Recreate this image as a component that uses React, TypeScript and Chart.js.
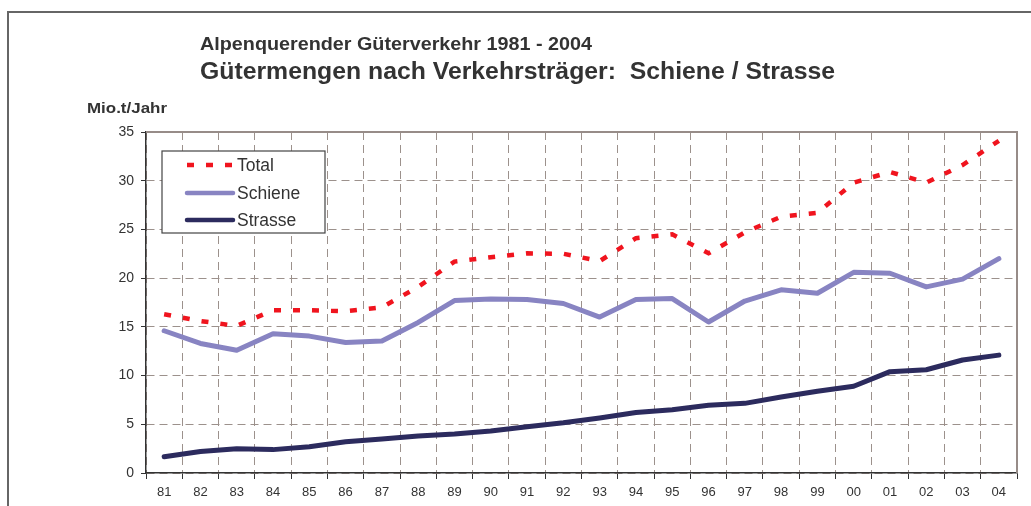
import React, { useEffect, useRef } from "react";
import { Chart, registerables } from "chart.js";

Chart.register(...registerables);

const years = ["81","82","83","84","85","86","87","88","89","90","91","92","93","94","95","96","97","98","99","00","01","02","03","04"];
const total = [16.3, 15.6, 15.1, 16.7, 16.7, 16.6, 17.0, 19.1, 21.7, 22.15, 22.55, 22.5, 21.75, 24.1, 24.5, 22.55, 24.7, 26.3, 26.7, 29.8, 30.9, 29.8, 31.6, 34.1];
const schiene = [14.6, 13.3, 12.6, 14.3, 14.05, 13.4, 13.55, 15.45, 17.7, 17.85, 17.8, 17.4, 16.0, 17.8, 17.9, 15.5, 17.65, 18.8, 18.45, 20.6, 20.5, 19.1, 19.9, 22.0];
const strasse = [1.67, 2.2, 2.5, 2.4, 2.7, 3.2, 3.5, 3.8, 4.0, 4.3, 4.75, 5.15, 5.65, 6.2, 6.5, 6.95, 7.15, 7.8, 8.4, 8.9, 10.4, 10.6, 11.6, 12.1];

const title1 = "Alpenquerender Güterverkehr 1981 - 2004";
const title2 = "Gütermengen nach Verkehrsträger:  Schiene / Strasse";
const unitLabel = "Mio.t/Jahr";
const seriesNames = ["Total", "Schiene", "Strasse"];

const RED = "#f0141e";
const LIGHT = "#8884c2";
const DARK = "#2c2b5e";
const TEXT = "#333333";
const GRID = "#9c918c";
const FONT = "'Liberation Sans', Arial, sans-serif";

function fitText(ctx: any, text: string, x: number, y: number, font: string, width: number) {
  ctx.save();
  ctx.font = font;
  const w = ctx.measureText(text).width;
  const sx = width / w;
  ctx.translate(x, y);
  ctx.scale(sx, 1);
  ctx.fillText(text, 0, 0);
  ctx.restore();
}

const decorPlugin = {
  id: "decor",
  beforeDraw(chart: any) {
    const ctx = chart.ctx;
    ctx.save();
    ctx.fillStyle = "#ffffff";
    ctx.fillRect(0, 0, chart.width, chart.height);
    ctx.restore();
  },
  afterDraw(chart: any) {
    const ctx = chart.ctx;
    const a = chart.chartArea;
    ctx.save();
    // outer frame
    ctx.strokeStyle = "#666666";
    ctx.lineWidth = 2;
    ctx.beginPath();
    ctx.moveTo(8, chart.height);
    ctx.lineTo(8, 12);
    ctx.lineTo(chart.width, 12);
    ctx.stroke();
    // top and right plot border
    ctx.strokeStyle = "#978c88";
    ctx.lineWidth = 2;
    ctx.beginPath();
    ctx.moveTo(a.left, a.top);
    ctx.lineTo(a.right, a.top);
    ctx.lineTo(a.right, a.bottom);
    ctx.stroke();
    // titles
    ctx.fillStyle = TEXT;
    ctx.textBaseline = "alphabetic";
    ctx.textAlign = "left";
    fitText(ctx, title1, 200, 50, `bold 18.5px ${FONT}`, 392);
    fitText(ctx, title2, 200, 78.5, `bold 23.5px ${FONT}`, 635);
    fitText(ctx, unitLabel, 87, 113, `bold 15px ${FONT}`, 80);
    // legend
    const lx = 162, ly = 151, lw = 163, lh = 82;
    ctx.fillStyle = "#ffffff";
    ctx.fillRect(lx, ly, lw, lh);
    ctx.strokeStyle = "#444444";
    ctx.lineWidth = 1.2;
    ctx.strokeRect(lx, ly, lw, lh);
    const rows = [165, 193, 220];
    const styles = [
      { c: RED, dash: [7, 12], w: 4.5, cap: "butt" },
      { c: LIGHT, dash: [], w: 4.5, cap: "round" },
      { c: DARK, dash: [], w: 4.5, cap: "round" },
    ];
    rows.forEach((y, i) => {
      const s = styles[i];
      ctx.save();
      ctx.strokeStyle = s.c;
      ctx.lineWidth = s.w;
      ctx.lineCap = s.cap;
      ctx.setLineDash(s.dash);
      ctx.beginPath();
      ctx.moveTo(187, y);
      ctx.lineTo(233, y);
      ctx.stroke();
      ctx.restore();
      ctx.fillStyle = TEXT;
      ctx.font = `17.5px ${FONT}`;
      ctx.textBaseline = "middle";
      ctx.fillText(seriesNames[i], 237, y + 1);
    });
    ctx.restore();
  },
};

export default function App() {
  const ref = useRef<HTMLCanvasElement | null>(null);
  useEffect(() => {
    if (!ref.current) return;
    const chart = new Chart(ref.current, {
      type: "line",
      data: {
        labels: years,
        datasets: [
          {
            label: seriesNames[0],
            data: total,
            borderColor: RED,
            borderWidth: 4.5,
            borderDash: [7, 12],
            pointRadius: 0,
            tension: 0,
            fill: false,
          },
          {
            label: seriesNames[1],
            data: schiene,
            borderColor: LIGHT,
            borderWidth: 5,
            borderCapStyle: "round",
            borderJoinStyle: "round",
            pointRadius: 0,
            tension: 0,
            fill: false,
          },
          {
            label: seriesNames[2],
            data: strasse,
            borderColor: DARK,
            borderWidth: 5,
            borderCapStyle: "round",
            borderJoinStyle: "round",
            pointRadius: 0,
            tension: 0,
            fill: false,
          },
        ],
      } as any,
      options: {
        animation: false,
        responsive: false,
        maintainAspectRatio: false,
        layout: { padding: { left: 0, top: 132, right: 14, bottom: 0 } },
        plugins: {
          legend: { display: false },
          title: { display: false },
          tooltip: { enabled: false },
        },
        scales: {
          x: {
            type: "category",
            offset: true,
            afterFit: (s: any) => {
              s.height = 33;
            },
            grid: {
              offset: true,
              color: GRID,
              lineWidth: 1,
              tickColor: "#333333",
              tickLength: 6,
              tickWidth: 1,
              tickBorderDash: [],
            },
            border: { display: true, color: "#333333", width: 1.5, dash: [8, 5] },
            ticks: {
              color: TEXT,
              font: { family: FONT, size: 13 },
              padding: 6,
              maxRotation: 0,
              autoSkip: false,
            },
          },
          y: {
            min: 0,
            max: 35,
            afterFit: (s: any) => {
              s.width = 146;
            },
            grid: {
              color: GRID,
              lineWidth: 1,
              tickColor: "#333333",
              tickLength: 5,
              tickWidth: 1,
              tickBorderDash: [],
            },
            border: { display: true, color: "#333333", width: 1.5, dash: [8, 5] },
            ticks: {
              stepSize: 5,
              color: TEXT,
              font: { family: FONT, size: 14 },
              padding: 7,
            },
          },
        },
      } as any,
      plugins: [decorPlugin],
    });
    return () => chart.destroy();
  }, []);
  return (
    <div style={{ position: "fixed", left: 0, top: 0, width: 1031, height: 506, background: "#fff" }}>
      <canvas ref={ref} width={1031} height={506} style={{ display: "block", width: 1031, height: 506 }} />
    </div>
  );
}
